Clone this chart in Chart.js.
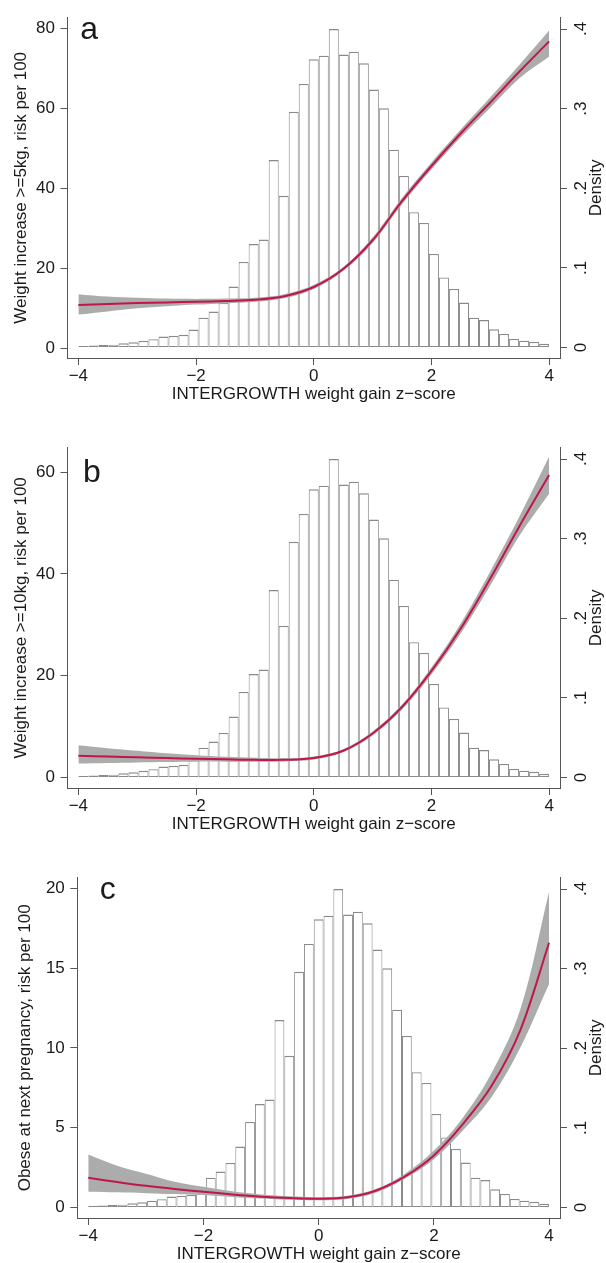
<!DOCTYPE html>
<html>
<head>
<meta charset="utf-8">
<title>INTERGROWTH weight gain z-score</title>
<script src="https://cdn.jsdelivr.net/npm/chart.js@4.4.1/dist/chart.umd.min.js"></script>
<style>
  html, body { margin: 0; padding: 0; background: #fff; }
  body { width: 606px; height: 1263px; position: relative; overflow: hidden; }
  .panel { position: absolute; left: 0; width: 606px; height: 403px; }
</style>
</head>
<body>
<div class="panel" style="top:0"><canvas id="chartA"></canvas></div>
<div class="panel" style="top:430px"><canvas id="chartB"></canvas></div>
<div class="panel" style="top:860px"><canvas id="chartC"></canvas></div>
<script>
/* ---------- data ---------- */
const Z_GRID = [-4, -3.5, -3, -2.5, -2, -1.5, -1, -0.5, 0, 0.5, 1, 1.5, 2, 2.5, 3, 3.5, 4];

// a: weight increase >=5kg
const RISK_A    = [10.8, 11.05, 11.3, 11.45, 11.6, 11.8, 12.1, 13.0, 15.3, 19.8, 27.0, 36.8, 45.6, 53.8, 61.5, 69.3, 76.8];
const RISK_A_HI = [13.5, 12.9, 12.6, 12.4, 12.3, 12.4, 12.6, 13.5, 15.8, 20.3, 27.7, 37.6, 46.5, 54.8, 62.8, 71.0, 79.5];
const RISK_A_LO = [8.4, 9.2, 10.0, 10.5, 10.9, 11.2, 11.6, 12.5, 14.8, 19.3, 26.3, 36.0, 44.7, 52.8, 60.2, 67.6, 73.0];

// b: weight increase >=10kg
const RISK_B    = [4.2, 4.05, 3.9, 3.75, 3.6, 3.5, 3.4, 3.4, 3.75, 5.2, 8.6, 13.8, 20.9, 29.3, 39.1, 49.5, 59.5];
const RISK_B_HI = [6.3, 5.7, 5.2, 4.7, 4.3, 4.0, 3.8, 3.7, 4.05, 5.5, 9.0, 14.3, 21.6, 30.3, 40.5, 51.4, 63.1];
const RISK_B_LO = [2.7, 2.8, 2.9, 3.0, 3.05, 3.05, 3.05, 3.1, 3.45, 4.9, 8.2, 13.3, 20.2, 28.3, 37.7, 47.6, 55.8];

// c: obese at next pregnancy
const RISK_C    = [1.84, 1.58, 1.34, 1.14, 0.97, 0.8, 0.66, 0.57, 0.53, 0.62, 1.05, 1.93, 3.25, 5.2, 7.6, 11.1, 16.6];
const RISK_C_HI = [3.3, 2.6, 2.1, 1.6, 1.28, 1.0, 0.8, 0.68, 0.63, 0.72, 1.15, 2.1, 3.55, 5.6, 8.4, 12.4, 19.8];
const RISK_C_LO = [0.97, 0.93, 0.88, 0.82, 0.76, 0.64, 0.54, 0.47, 0.44, 0.52, 0.92, 1.8, 3.0, 4.8, 6.9, 10.0, 14.0];

// histogram of z-scores (same sample in all three panels), 47 bins on [-4, 4]
const HIST_START = -4;
const HIST_END = 4;
const DENSITY = [
  0.0020, 0.0025, 0.0030, 0.0035, 0.0053, 0.0066, 0.0084, 0.0105, 0.0138, 0.0146,
  0.0160, 0.0226, 0.0375, 0.0452, 0.0560, 0.0766, 0.1075, 0.1300, 0.1355, 0.2355,
  0.1905, 0.2960, 0.3310, 0.3620, 0.3665, 0.4000, 0.3680, 0.3715, 0.3570, 0.3240,
  0.3005, 0.2485, 0.2155, 0.1700, 0.1565, 0.1175, 0.0880, 0.0735, 0.0565, 0.0375,
  0.0345, 0.0228, 0.0170, 0.0108, 0.0085, 0.0072, 0.0046
];

const X_TICKS = [-4, -2, 0, 2, 4];
const DENSITY_TICKS = [0, 0.1, 0.2, 0.3, 0.4];
const TICKS_A = [0, 20, 40, 60, 80];
const TICKS_B = [0, 20, 40, 60];
const TICKS_C = [0, 5, 10, 15, 20];

const X_TITLE = "INTERGROWTH weight gain z\u2212score";
const RIGHT_TITLE = "Density";

/* ---------- style ---------- */
const FONT = "'Liberation Sans', Arial, Helvetica, sans-serif";
const TEXT = "#1a1a1a";
const AXIS = "#555555";
const BAR_LINE = "#8a8a8a";
const BAND = "#acacac";
const CURVE = "#bf1748";

Chart.defaults.font.family = FONT;
Chart.defaults.font.size = 17;
Chart.defaults.color = TEXT;

const binWidth = (HIST_END - HIST_START) / DENSITY.length;
const histPoints = DENSITY.map((d, i) => ({ x: HIST_START + (i + 0.5) * binWidth, y: d }));

function pairs(ys) {
  return Z_GRID.map((z, i) => ({ x: z, y: ys[i] }));
}

function minusLabel(v) {
  return v < 0 ? "\u2212" + Math.abs(v) : String(v);
}

function densityLabel(v) {
  return v === 0 ? "0" : v.toFixed(1).replace(/^0\./, ".");
}

function fixedTicks(values) {
  return scale => { scale.ticks = values.map(v => ({ value: v })); };
}

const panelText = {
  id: "panelText",
  afterDraw(chart, args, opts) {
    const { ctx, chartArea } = chart;
    const xs = chart.scales.x, ys = chart.scales.y;
    ctx.save();
    ctx.fillStyle = TEXT;
    // panel letter, level with the top left tick
    ctx.font = "32px " + FONT;
    ctx.textAlign = "left";
    ctx.textBaseline = "alphabetic";
    ctx.fillText(opts.letter, xs.getPixelForValue(opts.letterX), ys.getPixelForValue(opts.letterY) + 10);
    // right axis title, reading upwards
    ctx.font = "17px " + FONT;
    ctx.translate(596, (chartArea.top + chartArea.bottom) / 2);
    ctx.rotate(-Math.PI / 2);
    ctx.textAlign = "center";
    ctx.textBaseline = "middle";
    ctx.fillText(RIGHT_TITLE, 0, 0);
    ctx.restore();
  }
};

function makePanel(id, cfg) {
  const axisGrid = { display: true, drawOnChartArea: false, drawTicks: true, tickLength: 7, color: AXIS, offset: false };
  const axisBorder = { display: true, color: AXIS, width: 1 };
  const curveLine = { pointRadius: 0, tension: 0.35, yAxisID: "y" };

  new Chart(document.getElementById(id), {
    type: "bar",
    data: {
      datasets: [
        {
          ...curveLine,
          type: "line",
          label: "risk",
          data: pairs(cfg.risk),
          borderColor: CURVE,
          borderWidth: 2,
          fill: false,
          order: 1,
        },
        {
          ...curveLine,
          type: "line",
          label: "upper",
          data: pairs(cfg.hi),
          borderColor: "rgba(0,0,0,0)",
          borderWidth: 0,
          backgroundColor: BAND,
          fill: "+1",
          order: 2,
        },
        {
          ...curveLine,
          type: "line",
          label: "lower",
          data: pairs(cfg.lo),
          borderColor: "rgba(0,0,0,0)",
          borderWidth: 0,
          fill: false,
          order: 3,
        },
        {
          type: "bar",
          label: "Density",
          data: histPoints,
          yAxisID: "y2",
          backgroundColor: "#ffffff",
          borderColor: BAR_LINE,
          borderWidth: { top: 1.4, right: 1, bottom: 1, left: 1 },
          borderSkipped: false,
          inflateAmount: 0,
          barPercentage: 1,
          categoryPercentage: 1,
          order: 4,
        },
      ],
    },
    options: {
      responsive: true,
      maintainAspectRatio: false,
      animation: false,
      layout: { padding: { top: 13, left: 0, right: 0, bottom: 0 } },
      plugins: {
        legend: { display: false },
        tooltip: { enabled: false },
        panelText: { letter: cfg.letter, letterX: cfg.letterX, letterY: cfg.letterY },
      },
      scales: {
        x: {
          type: "linear",
          min: -cfg.xSpan,
          max: cfg.xSpan,
          offset: false,
          grid: axisGrid,
          border: axisBorder,
          ticks: { autoSkip: false, padding: 1.5, color: TEXT, callback: minusLabel },
          afterBuildTicks: fixedTicks(X_TICKS),
          afterFit: s => { s.height = 45; },
          title: { display: true, text: X_TITLE, color: TEXT, font: { size: 17, lineHeight: 1.0 }, padding: { top: 0, bottom: 0.5 } },
        },
        y: {
          type: "linear",
          position: "left",
          min: cfg.yMin,
          max: cfg.yMax,
          grid: axisGrid,
          border: axisBorder,
          ticks: { padding: 5.5, color: TEXT, callback: v => String(v) },
          afterBuildTicks: fixedTicks(cfg.ticks),
          afterFit: s => { s.width = cfg.leftW; },
          title: { display: true, text: cfg.yTitle, color: TEXT, font: { size: 17 }, padding: { top: cfg.titlePad, bottom: 0 } },
        },
        y2: {
          type: "linear",
          position: "right",
          min: -0.0132,
          max: 0.4142,
          grid: axisGrid,
          border: axisBorder,
          ticks: { minRotation: 90, maxRotation: 90, crossAlign: "center", padding: 7.5, color: TEXT, callback: densityLabel },
          afterBuildTicks: fixedTicks(DENSITY_TICKS),
          afterFit: s => { s.width = 46; },
        },
      },
    },
    plugins: [panelText],
  });
}

makePanel("chartA", {
  risk: RISK_A, hi: RISK_A_HI, lo: RISK_A_LO, ticks: TICKS_A,
  yMin: -2.47, yMax: 82.72, yTitle: "Weight increase >=5kg, risk per 100",
  letter: "a", letterX: -3.97, letterY: 80,
  xSpan: 4.185, leftW: 67.5, titlePad: 11.3,
});

makePanel("chartB", {
  risk: RISK_B, hi: RISK_B_HI, lo: RISK_B_LO, ticks: TICKS_B,
  yMin: -2.14, yMax: 64.85, yTitle: "Weight increase >=10kg, risk per 100",
  letter: "b", letterX: -3.92, letterY: 60,
  xSpan: 4.185, leftW: 67.5, titlePad: 11.3,
});

makePanel("chartC", {
  risk: RISK_C, hi: RISK_C_HI, lo: RISK_C_LO, ticks: TICKS_C,
  yMin: -0.68, yMax: 20.68, yTitle: "Obese at next pregnancy, risk per 100",
  letter: "c", letterX: -3.8, letterY: 20,
  xSpan: 4.19, leftW: 77.3, titlePad: 14.8,
});
</script>
</body>
</html>
